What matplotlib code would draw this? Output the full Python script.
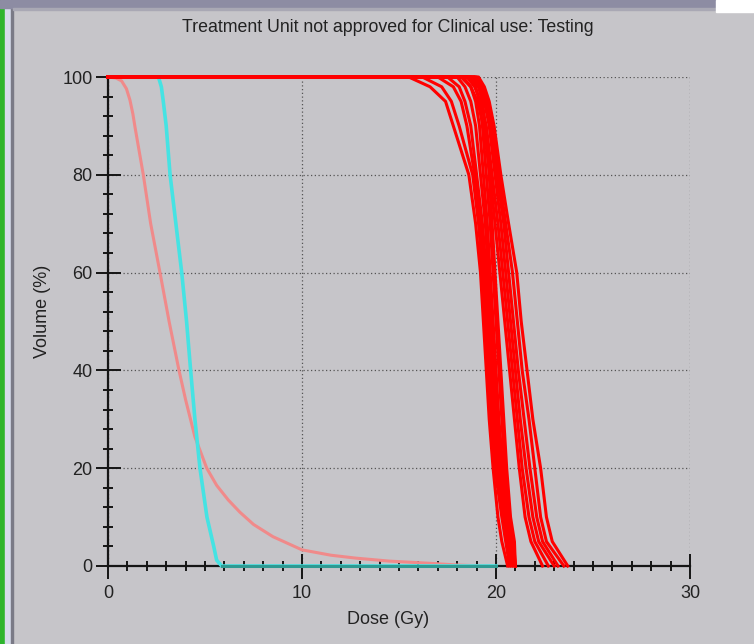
import matplotlib
matplotlib.use("Agg")
import matplotlib.pyplot as plt
from matplotlib.patches import Rectangle
from matplotlib.ticker import MultipleLocator

TITLE = "Treatment Unit not approved for Clinical use: Testing"
XLABEL = "Dose (Gy)"
YLABEL = "Volume (%)"

# pink structure DVH (dose in Gy, volume in %)
PINK_DOSE = [0, 0.4, 0.7, 0.95, 1.13, 1.28, 1.39, 1.6, 1.82, 2.2, 2.68, 3.15, 3.66, 4.0, 4.48,
             5.09, 5.6, 6.2, 6.8, 7.5, 8.5, 10.0, 11.5, 12.8, 14.5, 16.6, 18.0, 19.5]
PINK_VOL = [100, 99.8, 99.2, 97.6, 95.3, 92.5, 89.8, 85, 80, 70, 60, 50, 40, 34, 26.4,
            20, 16.5, 13.5, 11, 8.5, 6, 3.3, 2.2, 1.6, 1.0, 0.55, 0.2, 0]

# cyan structure DVH
CYAN_DOSE = [0, 2.6, 2.75, 2.85, 3.0, 3.2, 3.5, 3.8, 4.05, 4.26, 4.48, 4.74,
             5.1, 5.45, 5.6, 5.86, 20.0]
CYAN_VOL = [100, 100, 98, 95, 90, 80, 70, 60, 50, 40, 30, 20, 10, 4, 1.2, 0, 0]

# red target DVHs: dose at each volume level
RED_LEVELS = [100, 98, 95, 90, 80, 70, 60, 50, 40, 30, 20, 10, 5, 0]
RED_DOSES = [
    [15.5, 16.6, 17.4, 17.8, 18.6, 18.95, 19.2, 19.35, 19.5, 19.65, 19.85, 20.1, 20.3, 20.6],
    [16.2, 17.2, 17.7, 18.1, 18.8, 19.1, 19.3, 19.45, 19.6, 19.75, 19.95, 20.3, 20.5, 20.7],
    [17.0, 17.8, 18.2, 18.5, 18.9, 19.2, 19.4, 19.55, 19.7, 19.85, 20.05, 20.4, 20.6, 20.8],
    [17.5, 18.1, 18.4, 18.7, 19.0, 19.3, 19.5, 19.65, 19.8, 19.95, 20.15, 20.45, 20.7, 20.9],
    [18.0, 18.4, 18.7, 18.95, 19.2, 19.45, 19.6, 19.75, 19.9, 20.05, 20.25, 20.55, 20.8, 21.0],
    [18.3, 18.7, 18.95, 19.15, 19.35, 19.55, 19.7, 19.85, 20.0, 20.15, 20.35, 20.6, 20.85, 21.0],
    [18.6, 18.95, 19.15, 19.3, 19.5, 19.7, 19.85, 20.0, 20.15, 20.3, 20.45, 20.65, 20.9, 21.0],
    [18.9, 19.1, 19.3, 19.45, 19.65, 19.8, 19.95, 20.1, 20.25, 20.4, 20.55, 20.75, 20.95, 21.0],
    [18.2, 18.7, 19.05, 19.35, 19.7, 19.95, 20.2, 20.45, 20.7, 20.95, 21.2, 21.5, 21.8, 22.4],
    [18.5, 18.9, 19.2, 19.5, 19.8, 20.1, 20.35, 20.6, 20.85, 21.1, 21.35, 21.7, 22.0, 22.7],
    [18.7, 19.1, 19.4, 19.65, 19.95, 20.25, 20.5, 20.75, 21.0, 21.25, 21.55, 21.9, 22.2, 23.0],
    [18.9, 19.2, 19.5, 19.75, 20.05, 20.4, 20.65, 20.9, 21.15, 21.45, 21.75, 22.1, 22.4, 23.2],
    [19.0, 19.3, 19.55, 19.85, 20.15, 20.5, 20.85, 21.1, 21.35, 21.7, 22.0, 22.3, 22.6, 23.5],
    [19.1, 19.4, 19.65, 19.9, 20.25, 20.65, 21.07, 21.3, 21.6, 21.9, 22.3, 22.6, 22.9, 23.7],
]

BG = "#c6c5c9"
W, H = 754, 644

plt.rcParams["font.family"] = ["Liberation Sans", "DejaVu Sans"]

fig = plt.figure(figsize=(W / 100, H / 100), dpi=100, facecolor=BG)


# window frame bits
def px_rect(x, y, w, h, color, **kw):
    fig.patches.append(Rectangle((x / W, 1 - (y + h) / H), w / W, h / H,
                                 transform=fig.transFigure, color=color, **kw))


px_rect(0, 0, 5, H, "#2db52d")
px_rect(5, 0, 6, H, "#d4dbe9")
px_rect(11, 8, 2, H, "#7a7a86")
px_rect(0, 0, W, 8, "#8d8ca3")
px_rect(13, 8, W, 2, "#a9a8b4")
px_rect(716, 0, 38, 12, "white")

ax = fig.add_axes([108 / W, 78 / H, 582 / W, 489 / H])
ax.set_facecolor(BG)

ax.plot(PINK_DOSE, PINK_VOL, color="#f08a8a", lw=2.2, clip_on=False, zorder=3)
ax.plot(CYAN_DOSE, CYAN_VOL, color="#45e3e3", lw=2.6, clip_on=False, zorder=3)
zero = CYAN_VOL.index(0)
ax.plot(CYAN_DOSE[zero:], CYAN_VOL[zero:], color="#2e9a92", lw=2.2,
        clip_on=False, zorder=4)

for doses in RED_DOSES:
    ax.plot([0] + doses, [100] + RED_LEVELS, color="#ff0000", lw=2.2,
            clip_on=False, zorder=5)

ax.set_xlim(0, 30)
ax.set_ylim(0, 100)
ax.xaxis.set_major_locator(MultipleLocator(10))
ax.xaxis.set_minor_locator(MultipleLocator(1))
ax.yaxis.set_major_locator(MultipleLocator(20))
ax.yaxis.set_minor_locator(MultipleLocator(4))

ax.tick_params(which="major", direction="inout", length=18, width=1.4,
               color="#151515", labelsize=13, labelcolor="#222222")
ax.tick_params(which="minor", direction="inout", length=6.5, width=1.4,
               color="#151515")
ax.tick_params(axis="y", pad=2)
ax.tick_params(axis="x", pad=5)

ax.grid(True, which="major", linestyle=(0, (1, 2)), color="#555555", lw=0.9)
ax.set_axisbelow(True)

for side in ["top", "right"]:
    ax.spines[side].set_visible(False)
for side in ["left", "bottom"]:
    ax.spines[side].set_linewidth(1.6)
    ax.spines[side].set_color("#151515")

ax.set_xlabel(XLABEL, fontsize=13, color="#222222")
ax.set_ylabel(YLABEL, fontsize=13, color="#222222")
ax.xaxis.set_label_coords((388 - 108) / 582, (566 - 611) / 489)
ax.yaxis.set_label_coords((51 - 108) / 582, (566 - 311) / 489)

fig.text(388 / W, 1 - 28 / H, TITLE, ha="center", va="center",
         fontsize=12.8, color="#222222")

fig.savefig("out.png", dpi=100, facecolor=BG)
